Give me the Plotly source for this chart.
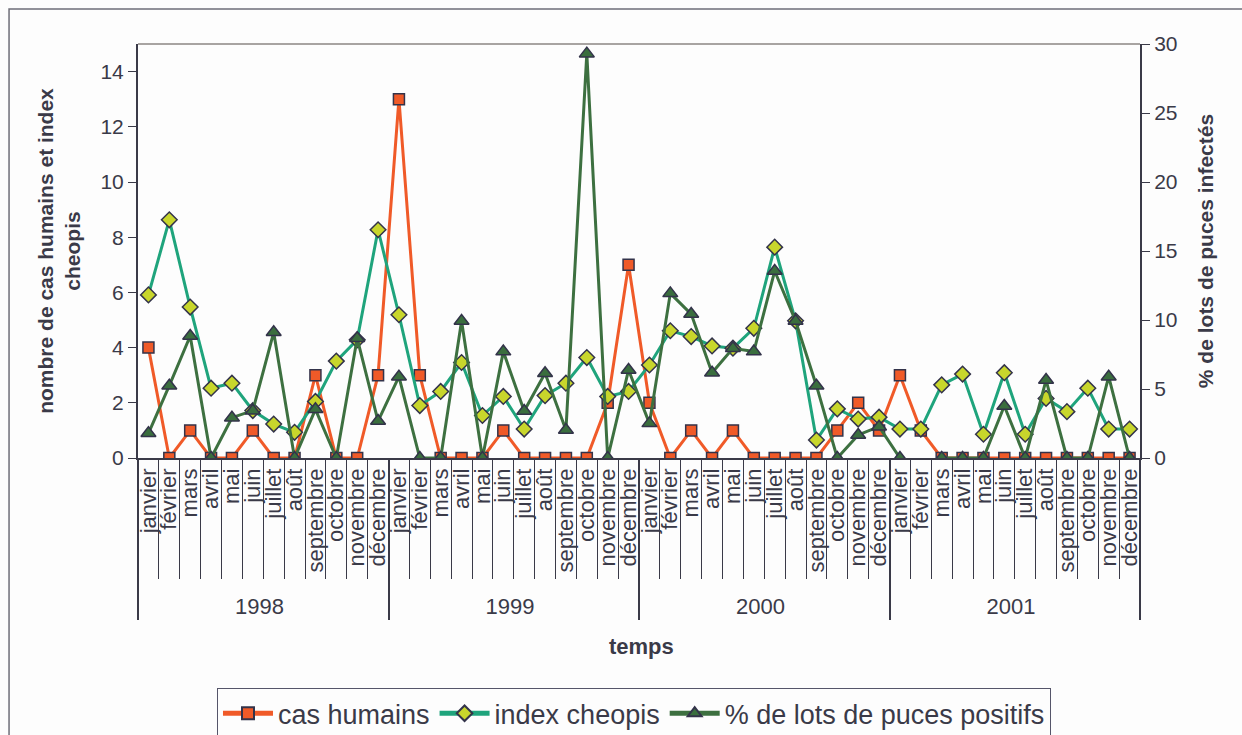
import plotly.graph_objects as go

years = ["1998", "1999", "2000", "2001"]
months = ["janvier", "février", "mars", "avril", "mai", "juin", "juillet",
          "août", "septembre", "octobre", "novembre", "décembre"]

cas_humains = [4, 0, 1, 0, 0, 1, 0, 0, 3, 0, 0, 3,
               13, 3, 0, 0, 0, 1, 0, 0, 0, 0, 2, 7,
               2, 0, 1, 0, 1, 0, 0, 0, 0, 1, 2, 1,
               3, 1, 0, 0, 0, 0, 0, 0, 0, 0, 0, 0]

index_cheopis = [5.91, 8.63, 5.47, 2.53, 2.71, 1.72, 1.23, 0.93, 2.05, 3.51, 4.28, 8.27,
                 5.19, 1.90, 2.41, 3.46, 1.54, 2.23, 1.05, 2.26, 2.71, 3.64, 2.23, 2.41,
                 3.37, 4.61, 4.40, 4.06, 3.98, 4.70, 7.64, 4.97, 0.65, 1.78, 1.41, 1.48,
                 1.05, 1.05, 2.65, 3.04, 0.86, 3.09, 0.86, 2.16, 1.68, 2.53, 1.05, 1.05]

pct_lots = [1.79, 5.24, 8.84, 0, 2.92, 3.43, 9.11, 0, 3.53, 0, 8.67, 2.68,
            5.89, 0, 0, 9.93, 0, 7.71, 3.41, 6.14, 2.03, 29.3, 0, 6.38,
            2.51, 11.93, 10.43, 6.18, 7.95, 7.71, 13.55, 9.93, 5.24, 0, 1.67, 2.27,
            0, None, 0, 0, 0, 3.77, 0, 5.65, 0, 0, 5.89, 0]

x_year = [y for y in years for _ in months]
x_month = [m for _ in years for m in months]
x = [x_year, x_month]
n_cat = len(x_month)

TXT = "#3a3a48"
EDGE = "#33334a"
AX = "#3a3a48"
FONT = "Liberation Sans, Arial, sans-serif"

fig = go.Figure()
fig.add_trace(go.Scatter(
    x=x, y=cas_humains, name="cas humains", mode="lines+markers",
    line=dict(color="#f05a28", width=3),
    marker=dict(symbol="square", size=11, color="#f05a28",
                line=dict(color=EDGE, width=1.5))))
fig.add_trace(go.Scatter(
    x=x, y=index_cheopis, name="index cheopis", mode="lines+markers",
    line=dict(color="#1fa47c", width=3),
    marker=dict(symbol="diamond", size=12, color="#c8d62c",
                line=dict(color=EDGE, width=1.5))))
fig.add_trace(go.Scatter(
    x=x, y=pct_lots, name="% de lots de puces positifs", mode="lines+markers",
    yaxis="y2", connectgaps=False,
    line=dict(color="#3d7040", width=3),
    marker=dict(symbol="triangle-up", size=13, color="#3a6e3e",
                line=dict(color=EDGE, width=1.5))))
# empty helper trace so the boundary-tick axis (x2) exists
fig.add_trace(go.Scatter(x=[], y=[], xaxis="x2", showlegend=False, hoverinfo="skip"))

fig.update_layout(
    width=1242, height=735,
    margin=dict(l=138, r=102, t=44, b=277, autoexpand=False),
    paper_bgcolor="#fdfdfd", plot_bgcolor="#fdfdfd",
    font=dict(family=FONT, size=21, color=TXT),
    showlegend=True,
    legend=dict(orientation="h", x=0.495, xanchor="center", y=-0.556, yanchor="top",
                bordercolor="#55556a", borderwidth=1, bgcolor="#fdfdfd",
                font=dict(size=27, color=TXT), itemwidth=50,
                itemsizing="constant", traceorder="normal"),
    xaxis=dict(
        type="multicategory", range=[-0.5, n_cat - 0.5],
        showline=True, linecolor=AX, linewidth=1.5,
        ticks="", tickmode="linear", tick0=0, dtick=1,
        tickangle=-90, showgrid=False, zeroline=False,
        showdividers=True, dividercolor=AX, dividerwidth=1.5,
        tickfont=dict(size=22, color=TXT), automargin=False),
    xaxis2=dict(
        overlaying="x", anchor="y", side="bottom",
        range=[-0.5, n_cat - 0.5], tickmode="linear", tick0=-0.5, dtick=1,
        ticks="outside", ticklen=120, tickcolor=AX, tickwidth=1,
        showticklabels=False, showline=False, showgrid=False, zeroline=False,
        automargin=False),
    yaxis=dict(
        range=[0, 15], tickvals=[0, 2, 4, 6, 8, 10, 12, 14],
        showline=True, linecolor=AX, linewidth=2,
        ticks="outside", ticklen=8, tickcolor=AX,
        showgrid=False, zeroline=False, automargin=False,
        title=dict(text="nombre de cas humains et index<br>cheopis",
                   font=dict(size=21, color=TXT, family=FONT, weight="bold"),
                   standoff=14)),
    yaxis2=dict(
        range=[0, 30], tickvals=[0, 5, 10, 15, 20, 25, 30],
        overlaying="y", side="right",
        showline=True, linecolor=AX, linewidth=2,
        ticks="outside", ticklen=8, tickcolor=AX,
        showgrid=False, zeroline=False, automargin=False,
        title=dict(text="% de lots de puces infectés",
                   font=dict(size=21, color=TXT, family=FONT, weight="bold"),
                   standoff=22)),
    annotations=[dict(text="<b>temps</b>", xref="paper", yref="paper",
                      x=0.502, y=-0.4565, xanchor="center", yanchor="middle",
                      showarrow=False, font=dict(size=22, color=TXT))],
    shapes=[
        dict(type="line", xref="paper", yref="paper", x0=0, x1=1, y0=1, y1=1,
             line=dict(color="#a8a4a2", width=2)),
        dict(type="rect", xref="paper", yref="paper",
             x0=-0.1287, x1=1.3, y0=1.0845, y1=-1.0,
             line=dict(color="#6e6e78", width=1.5), layer="below"),
    ],
)

fig.write_html("out.html", config={"displayModeBar": False},
               post_script="document.body.style.margin='0';")
